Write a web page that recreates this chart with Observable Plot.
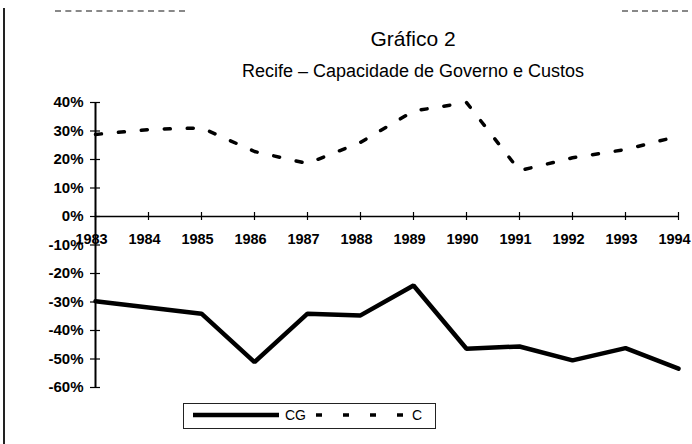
<!DOCTYPE html>
<html>
<head>
<meta charset="utf-8">
<script src="https://cdn.jsdelivr.net/npm/d3@7"></script>
<script src="https://cdn.jsdelivr.net/npm/@observablehq/plot@0.6"></script>
<style>
  html, body { margin: 0; padding: 0; background: #fff; }
  #wrap { position: relative; width: 692px; height: 444px; overflow: hidden; background: #fff;
          font-family: "Liberation Sans", Arial, Helvetica, sans-serif; color: #000; }
  #frame { position: absolute; left: 3px; top: 8px; width: 2px; height: 436px; background: #222; z-index: 5; }
  .scrap { position: absolute; top: 10px; height: 0; border-top: 2px dashed #888; z-index: 5; }
  #title { position: absolute; left: 134px; width: 558px; top: 22px; text-align: center; z-index: 4; }
  #title div { height: 33px; line-height: 33px; }
  #t1 { font-size: 21px; }
  #t2 { font-size: 18px; }
  #chart { position: absolute; left: 0; top: 85px; }
  #legend { position: absolute; left: 183px; top: 403px; width: 253px; height: 26px;
            border: 1.5px solid #222; box-sizing: border-box; font-size: 14px; z-index: 4; background: #fff; }
</style>
</head>
<body>
<div id="wrap">
  <div id="frame"></div>
  <div class="scrap" style="left:55px;width:130px;"></div>
  <div class="scrap" style="left:622px;width:66px;"></div>
  <div id="title"><div id="t1"></div><div id="t2"></div></div>
  <div id="chart"></div>
  <div id="legend"></div>
</div>
<script>
const years = [1983, 1984, 1985, 1986, 1987, 1988, 1989, 1990, 1991, 1992, 1993, 1994];
const cgValues = [-29.7, -31.9, -34.1, -51.1, -34.1, -34.7, -24.2, -46.4, -45.6, -50.5, -46.2, -53.4];
const cValues  = [28.8, 30.5, 31.1, 22.8, 18.6, 26.0, 37.0, 40.0, 16.1, 20.6, 23.5, 28.2];
const yTicks = [40, 30, 20, 10, 0, -10, -20, -30, -40, -50, -60];
const seriesNames = ["CG", "C"];
const titleLines = ["Gráfico 2", "Recife – Capacidade de Governo e Custos"];

document.getElementById("t1").textContent = titleLines[0];
document.getElementById("t2").textContent = titleLines[1];

const x0 = () => years[0];
const yExt = d3.extent(yTicks);

const plot = Plot.plot({
  width: 692,
  height: 310,
  marginLeft: 95,
  marginRight: 14,
  marginTop: 17,
  marginBottom: 8,
  x: { domain: d3.extent(years), axis: null },
  y: { domain: yExt, axis: null },
  style: { fontFamily: '"Liberation Sans", Arial, sans-serif', fontSize: "14px", color: "#000", background: "transparent" },
  marks: [
    Plot.ruleX([years[0]], { y1: () => yExt[0], y2: () => yExt[1], stroke: "#000", strokeWidth: 2 }),
    Plot.ruleY([0], { x1: () => years[0], x2: () => years[years.length - 1], stroke: "#000", strokeWidth: 1.5 }),
    Plot.ruleY(yTicks, { y: d => d, x1: x0, x2: x0, insetLeft: -5, insetRight: -5, stroke: "#000", strokeWidth: 1.2 }),
    Plot.ruleX(years, { x: d => d, y1: () => 0, y2: () => 0, insetTop: -4, insetBottom: -4, stroke: "#000", strokeWidth: 1.2 }),
    Plot.text(yTicks, { x: x0, y: d => d, dx: -12, textAnchor: "end", text: d => d + "%", fontSize: 15, fontWeight: "bold" }),
    Plot.text(years, { x: d => d, y: () => 0, dy: 23, dx: -4, text: d => String(d), fontSize: 14.5, fontWeight: "bold" }),
    Plot.line(years, { x: d => d, y: (d, i) => cgValues[i], stroke: "#000", strokeWidth: 4.5, strokeLinejoin: "miter" }),
    Plot.line(years, { x: d => d, y: (d, i) => cValues[i], stroke: "#000", strokeWidth: 3.5, strokeDasharray: "6,17" })
  ]
});
document.getElementById("chart").appendChild(plot);

document.getElementById("legend").innerHTML =
  '<svg width="250" height="23" style="display:block">' +
  '<line x1="9" x2="95" y1="11" y2="11" stroke="#000" stroke-width="4.5"></line>' +
  '<text x="101" y="16" font-size="14" font-family="Liberation Sans, Arial, sans-serif">' + seriesNames[0] + '</text>' +
  '<line x1="132" x2="222" y1="11" y2="11" stroke="#000" stroke-width="3.5" stroke-dasharray="6,21"></line>' +
  '<text x="228" y="16" font-size="14" font-family="Liberation Sans, Arial, sans-serif">' + seriesNames[1] + '</text>' +
  '</svg>';
</script>
</body>
</html>
